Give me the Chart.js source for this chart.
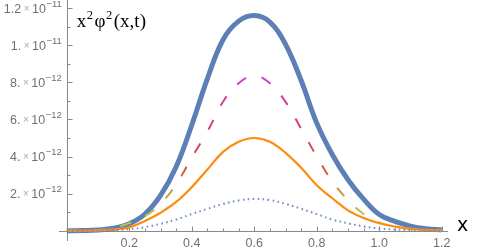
<!DOCTYPE html>
<html><head><meta charset="utf-8">
<script src="https://cdn.jsdelivr.net/npm/chart.js@4/dist/chart.umd.min.js"></script>
<style>html,body{margin:0;padding:0;background:#fff;overflow:hidden}</style>
</head><body>
<canvas id="c" width="482" height="251"></canvas>
<script>
// ---- data (values in units of 1e-12) ----
const UNIT = 1e-12;
const xValues      = [0,0.05,0.1,0.15,0.2,0.25,0.3,0.35,0.4,0.45,0.5,0.55,0.6,0.65,0.7,0.75,0.8,0.85,0.9,0.95,1.0,1.05,1.1,1.15,1.2];
const thickBlue    = [0,0.01,0.04,0.13,0.37,0.9,1.9,3.45,5.7,8.2,10.3,11.3,11.6,11.25,10.05,8.1,5.8,4.1,2.75,1.7,0.87,0.5,0.25,0.11,0.05];
const dashedCurve  = [0,0.01,0.04,0.14,0.41,0.78,1.45,2.5,3.95,5.35,6.95,7.95,8.35,7.95,6.95,5.5,4.0,2.65,1.65,0.9,0.45,0.22,0.1,0.04,0.02];
const orangeCurve  = [0,0.005,0.02,0.07,0.18,0.52,0.97,1.55,2.35,3.3,4.25,4.8,5.0,4.8,4.2,3.4,2.45,1.75,1.1,0.68,0.4,0.22,0.1,0.05,0.02];
const dottedCurve  = [0,0,0.01,0.03,0.08,0.19,0.37,0.6,0.9,1.18,1.44,1.63,1.71,1.65,1.45,1.18,0.9,0.6,0.4,0.23,0.12,0.06,0.03,0.01,0];

const xTickValues  = [0.2,0.4,0.6,0.8,1.0,1.2];
const xTickLabels  = ['0.2','0.4','0.6','0.8','1.0','1.2'];
const yTickValues  = [2,4,6,8,10,12];
const yTickMantissa= ['2.','4.','6.','8.','1.','1.2'];
const yTickExponent= ['\u221212','\u221212','\u221212','\u221212','\u221211','\u221211'];
const yAxisLabel   = ['x','2','\u03c6','2','(x,t)'];
const xAxisLabel   = 'x';

const toPts = arr => arr.map((v,i)=>({x:xValues[i], y:v*UNIT}));

const gradStops = [[0,'#a8cc50'],[0.07,'#b4c84c'],[0.15,'#c2b640'],[0.28,'#cc8a44'],[0.42,'#d05248'],[0.58,'#d8405e'],[0.75,'#d84078'],[0.89,'#d240aa'],[1,'#cc44cc']];
function dashGradient(c){
  const chart = c.chart;
  if(!chart.chartArea) return '#d04080';
  const ys = chart.scales.y;
  const g = chart.ctx.createLinearGradient(0, ys.getPixelForValue(0), 0, ys.getPixelForValue(8.4*UNIT));
  gradStops.forEach(s=>g.addColorStop(s[0], s[1]));
  return g;
}

const mmaAxes = {
  id:'mmaAxes',
  beforeDatasetsDraw(chart){
    const {ctx, chartArea:a, scales:{x, y}} = chart;
    const x0 = Math.round(x.getPixelForValue(0))+0.5;
    const y0 = Math.round(y.getPixelForValue(0))+0.5;
    ctx.save();
    ctx.strokeStyle='#8a8a8a'; ctx.lineWidth=1;
    ctx.beginPath();
    ctx.moveTo(a.left, y0); ctx.lineTo(a.right, y0);
    ctx.moveTo(x0, a.top); ctx.lineTo(x0, a.bottom);
    for(let k=1;k<=24;k++){
      const v=k*0.05; const px=Math.round(x.getPixelForValue(v))+0.5;
      const len = (k%4===0)?5:3;
      ctx.moveTo(px,y0); ctx.lineTo(px,y0-len);
    }
    for(let k=1;k<=12;k++){
      const py=Math.round(y.getPixelForValue(k*UNIT))+0.5;
      const len=(k%2===0)?5:3;
      ctx.moveTo(x0,py); ctx.lineTo(x0+len,py);
    }
    ctx.stroke();
    ctx.restore();
  },
  afterDraw(chart){
    const {ctx, chartArea:a, scales:{x, y}} = chart;
    const x0 = x.getPixelForValue(0);
    const y0 = y.getPixelForValue(0);
    ctx.save();
    ctx.textAlign='left'; ctx.textBaseline='alphabetic';
    const fMain='12.5px "Liberation Sans"', fTimes='10px "Liberation Sans"', fExp='9.5px "Liberation Sans"';
    yTickValues.forEach((v,i)=>{
      const py = y.getPixelForValue(v*UNIT);
      const right = x0-5;
      ctx.font=fMain; const wm=ctx.measureText(yTickMantissa[i]).width; const w10=ctx.measureText('10').width;
      ctx.font=fTimes; const wt=ctx.measureText('\u00d7').width;
      ctx.font=fExp; const we=ctx.measureText(yTickExponent[i]).width;
      const gap=2.5;
      let cx = right - (wm+gap+wt+gap+w10+0.5+we);
      ctx.fillStyle='#707070'; ctx.font=fMain; ctx.fillText(yTickMantissa[i], cx, py+4.5); cx+=wm+gap;
      ctx.fillStyle='#aaaaaa'; ctx.font=fTimes; ctx.fillText('\u00d7', cx, py+3.5); cx+=wt+gap;
      ctx.fillStyle='#707070'; ctx.font=fMain; ctx.fillText('10', cx, py+4.5); cx+=w10+0.5;
      ctx.font=fExp; ctx.fillText(yTickExponent[i], cx, py-1.5);
    });
    // y axis label
    ctx.fillStyle='#000';
    let lx = x0+10; const lb = 27;
    const fL='19px "Liberation Serif"', fS='12.5px "Liberation Serif"';
    yAxisLabel.forEach((t,i)=>{
      const sup = (t==='2');
      ctx.font = sup?fS:fL;
      ctx.fillText(t, lx, sup?lb-8:lb);
      lx += ctx.measureText(t).width + (sup?1.5:0.5);
    });
    // x axis label
    ctx.font='19px "DejaVu Sans"';
    ctx.fillText(xAxisLabel, a.right+9, y0);
    ctx.restore();
  }
};

new Chart(document.getElementById('c'), {
  type:'line',
  data:{ datasets:[
    {data:toPts(thickBlue), borderColor:'#5c80b6', borderWidth:5, order:4},
    {data:toPts(dashedCurve), borderColor:dashGradient, borderWidth:2, borderDash:[11,16], order:3},
    {data:toPts(orangeCurve), borderColor:'#ff8a10', borderWidth:2.2, order:2},
    {data:toPts(dottedCurve), borderColor:'#6e8fc2', borderWidth:2, borderDash:[1.6,3.4], order:1}
  ]},
  options:{
    responsive:false, animation:false, devicePixelRatio:1,
    layout:{padding:{left:59,right:34,top:0,bottom:10}},
    elements:{point:{radius:0}, line:{tension:0.4, fill:false, borderCapStyle:'butt', borderJoinStyle:'round'}},
    datasets:{line:{clip:false}},
    plugins:{legend:{display:false}, tooltip:{enabled:false}},
    scales:{
      x:{type:'linear', min:-0.025, max:1.22, position:{y:0},
        grid:{display:false, drawTicks:true, tickLength:2}, border:{display:false},
        afterBuildTicks:s=>{s.ticks=xTickValues.map(v=>({value:v}));},
        ticks:{autoSkip:false, maxRotation:0, padding:3, color:'#707070', font:{family:'Liberation Sans', size:12.5},
          callback:(v)=>{const i=xTickValues.findIndex(t=>Math.abs(t-v)<1e-9); return i>=0?xTickLabels[i]:'';}}},
      y:{type:'linear', min:-0.555*UNIT, max:12.44*UNIT, position:{x:0},
        grid:{display:false}, border:{display:false}, ticks:{display:false}}
    }
  },
  plugins:[mmaAxes]
});
</script>
</body></html>
